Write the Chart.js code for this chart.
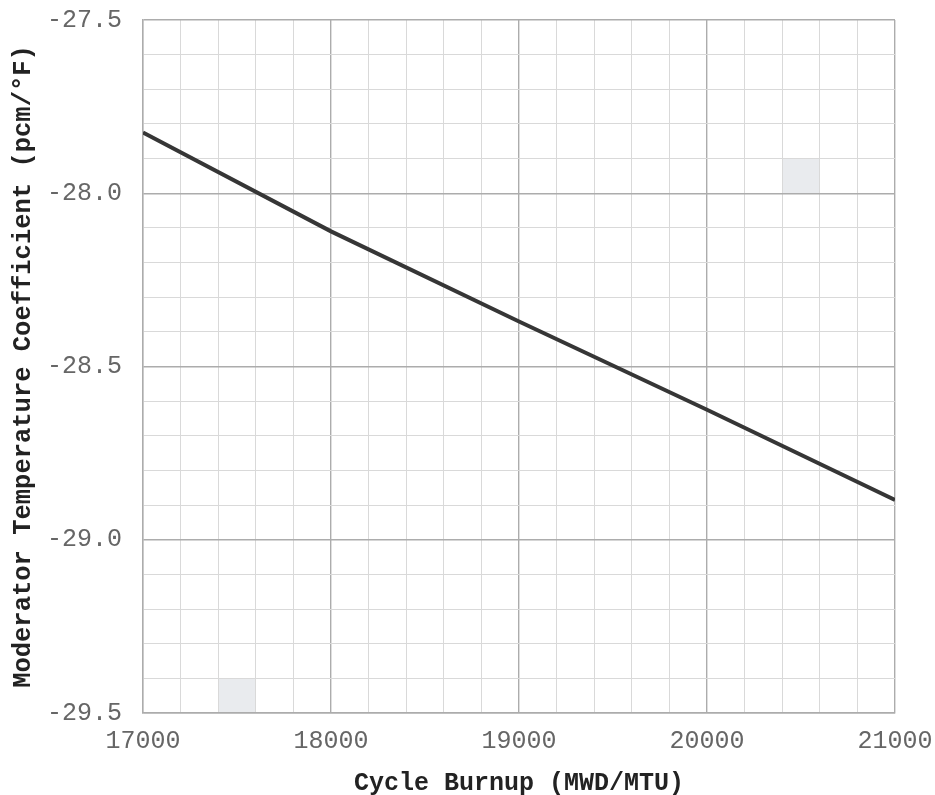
<!DOCTYPE html>
<html>
<head>
<meta charset="utf-8">
<script src="https://cdn.jsdelivr.net/npm/chart.js@4.4.1/dist/chart.umd.min.js"></script>
<style>
  html, body { margin: 0; padding: 0; background: #fff; }
  #wrap { width: 935px; height: 795px; }
</style>
</head>
<body>
<div id="wrap"><canvas id="mtcChart" width="935" height="795"></canvas></div>
<script>
"use strict";

// burnup points
var burnup = [17000, 18000, 19000, 20000, 21000];
var mtc = [-27.825, -28.11, -28.37, -28.625, -28.885];

// light grey cells on the grid paper
var cellX = [[17400, 17600], [20400, 20600]];
var cellY = [[-29.5, -29.4], [-28.0, -27.9]];

var xMin = 17000, xMax = 21000, xStep = 200;
var yMin = -29.5, yMax = -27.5, yStep = 0.1;

var mono = "'Liberation Mono', 'DejaVu Sans Mono', monospace";

var points = burnup.map(function (b, i) {
    return { x: b, y: mtc[i] };
});

var shadePlugin = {
    id: 'shadeCells',
    beforeDraw: function (chart) {
        var ctx = chart.ctx;
        var xs = chart.scales.x, ys = chart.scales.y;
        ctx.save();
        ctx.fillStyle = '#e9ebee';
        for (var i = 0; i < cellX.length; i++) {
            var x0 = xs.getPixelForValue(cellX[i][0]);
            var x1 = xs.getPixelForValue(cellX[i][1]);
            var y0 = ys.getPixelForValue(cellY[i][1]);
            var y1 = ys.getPixelForValue(cellY[i][0]);
            ctx.fillRect(x0, y0, x1 - x0, y1 - y0);
        }
        ctx.restore();
    }
};

function isMajorX(v) { return Math.round(v) % 1000 === 0; }
function isMajorY(v) { return Math.round(v * 10) % 5 === 0; }

new Chart(document.getElementById('mtcChart'), {
    type: 'line',
    data: {
        datasets: [{
            data: points,
            borderColor: '#363636',
            borderWidth: 4,
            pointRadius: 0,
            fill: false,
            tension: 0
        }]
    },
    options: {
        responsive: false,
        animation: false,
        layout: { padding: { top: 20, right: 40, left: 8, bottom: 0 } },
        plugins: {
            legend: { display: false },
            tooltip: { enabled: false }
        },
        scales: {
            x: {
                type: 'linear',
                min: xMin,
                max: xMax,
                afterFit: function (scale) {
                    scale.height = 82;
                    scale.paddingLeft = 0;
                    scale.paddingRight = 0;
                },
                ticks: {
                    stepSize: xStep,
                    autoSkip: false,
                    maxRotation: 0,
                    padding: 13,
                    color: '#666666',
                    font: { family: mono, size: 25 },
                    callback: function (v) { return isMajorX(v) ? String(Math.round(v)) : ''; }
                },
                grid: {
                    drawTicks: false,
                    color: function (c) { return isMajorX(c.tick.value) ? '#acacac' : '#d9d9d9'; },
                    lineWidth: function (c) { return isMajorX(c.tick.value) ? 1.4 : 1; }
                },
                border: { color: '#acacac', width: 1.4 },
                title: {
                    display: true,
                    text: 'Cycle Burnup (MWD/MTU)',
                    color: '#222222',
                    font: { family: mono, size: 25, weight: 'bold', lineHeight: 0.9 },
                    padding: { top: 4, bottom: 0 }
                }
            },
            y: {
                min: yMin,
                max: yMax,
                afterFit: function (scale) {
                    scale.width = 135;
                    scale.paddingTop = 0;
                    scale.paddingBottom = 0;
                },
                ticks: {
                    stepSize: yStep,
                    autoSkip: false,
                    padding: 21,
                    color: '#666666',
                    font: { family: mono, size: 25 },
                    callback: function (v) { return isMajorY(v) ? v.toFixed(1) : ''; }
                },
                grid: {
                    drawTicks: false,
                    color: function (c) { return isMajorY(c.tick.value) ? '#acacac' : '#d9d9d9'; },
                    lineWidth: function (c) { return isMajorY(c.tick.value) ? 1.4 : 1; }
                },
                border: { color: '#acacac', width: 1.4 },
                title: {
                    display: true,
                    text: 'Moderator Temperature Coefficient (pcm/°F)',
                    color: '#222222',
                    font: { family: mono, size: 25.5, weight: 'bold' },
                    padding: { top: 0, bottom: 0 }
                }
            }
        }
    },
    plugins: [shadePlugin]
});
</script>
</body>
</html>
